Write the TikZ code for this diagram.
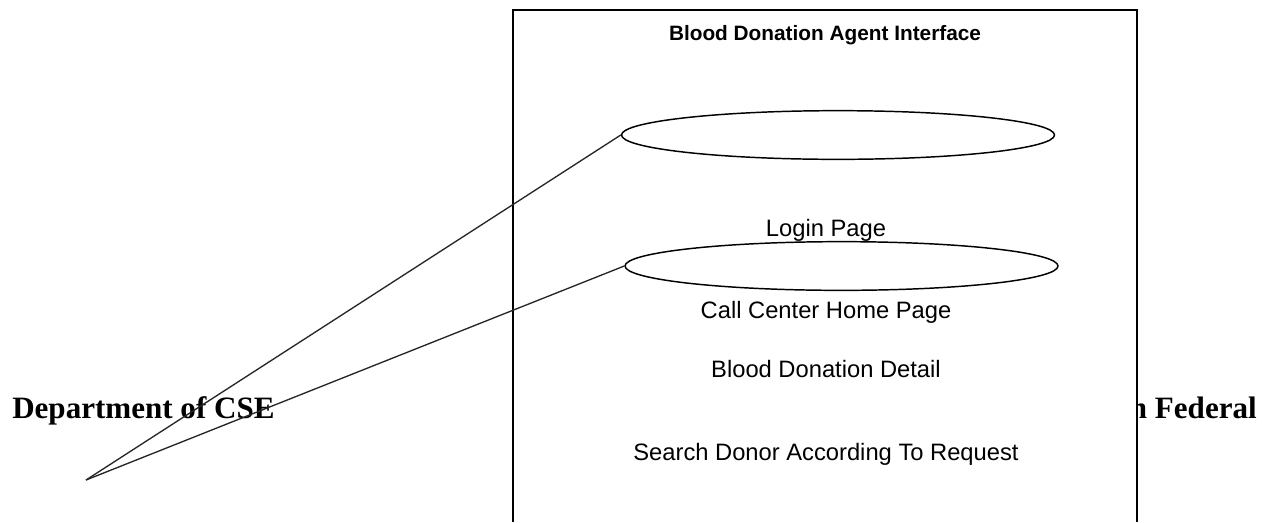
\documentclass[tikz,border=0pt]{standalone}
\usepackage{fontspec}
\setmainfont{Liberation Serif}
\newfontfamily\labelfont{Liberation Sans}
\usetikzlibrary{shapes.geometric}
\tikzset{
  usecase/.style={ellipse, draw=black, line width=1.1pt, fill=white, inner sep=0pt,
    minimum width=324.75pt, minimum height=36.5pt},
  uclabel/.style={font=\labelfont\fontsize{17.8}{20}\selectfont, inner sep=0pt, anchor=base},
  header/.style={font=\bfseries\fontsize{23.3}{26}\selectfont, inner sep=0pt, anchor=base},
  assoc/.style={draw=black!85, line width=1pt},
}
\begin{document}
\begin{tikzpicture}[x=0.75pt, y=-0.75pt]
  \useasboundingbox (0,0) rectangle (1270,522);
  \fill[white] (0,0) rectangle (1270,522);

  % page header running behind the system boundary
  \node[header, anchor=base west] (dept) at (12,418) {Department of CSE};
  \node[header, anchor=base east] (fed) at (1257,418) {n Federal};

  % system boundary (open at the bottom)
  \fill[white] (513,10) rectangle (1137,522);
  \draw[line width=1.5pt] (513,522) -- (513,10) -- (1137,10) -- (1137,522);
  \node[font=\labelfont\bfseries\fontsize{15.6}{18}\selectfont, inner sep=0pt, anchor=base]
    (title) at (825,40) {Blood Donation Agent Interface};

  % use cases
  \node[usecase] (uc1) at (838,135) {};
  \node[usecase] (uc2) at (841.5,266) {};

  \node[uclabel] (l1) at (826,236) {Login Page};
  \node[uclabel] (l2) at (826,318) {Call Center Home Page};
  \node[uclabel] (l3) at (826,377) {Blood Donation Detail};
  \node[uclabel] (l4) at (826,460) {Search Donor According To Request};

  % actor end point and associations
  \coordinate (actor) at (86,480);
  \draw[assoc] (actor) -- (uc1.west);
  \draw[assoc] (actor) -- (uc2.west);
\end{tikzpicture}
\end{document}
